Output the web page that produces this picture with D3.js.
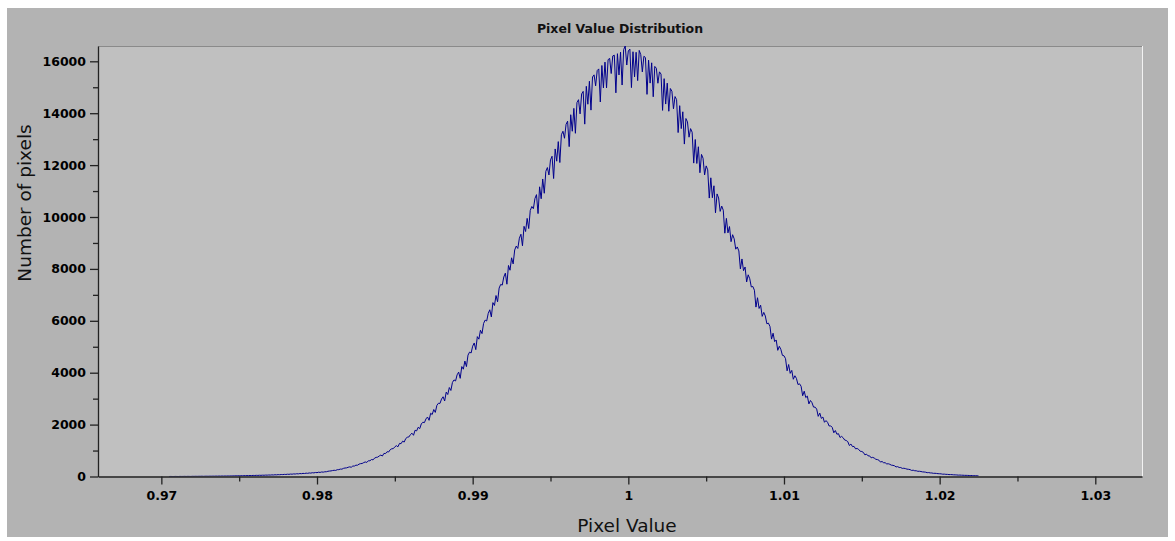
<!DOCTYPE html>
<html>
<head>
<meta charset="utf-8">
<script src="https://cdn.jsdelivr.net/npm/d3@7"></script>
<style>
  html, body { margin: 0; padding: 0; background: #fff; }
  svg { display: block; font-family: "DejaVu Sans", sans-serif; }
</style>
</head>
<body>
<svg id="chart" width="1175" height="541"></svg>
<script>
// Histogram of pixel values: fixed-width bins starting at binStart.
const binStart = 0.9705;
const binWidth = 0.0001;

// Counts per bin, 0.9705 .. 0.9804
const leftTailCounts = [
  0, 2, 0, 0, 3, 1, 0, 4, 2, 3,
  5, 2, 6, 4, 3, 7, 5, 8, 6, 9,
  8, 11, 7, 10, 12, 9, 13, 11, 14, 12,
  16, 13, 17, 15, 19, 16, 20, 18, 22, 19,
  24, 21, 27, 25, 29, 26, 31, 28, 34, 31,
  36, 33, 39, 36, 42, 39, 45, 42, 48, 45,
  51, 48, 55, 52, 59, 55, 63, 59, 67, 63,
  72, 68, 77, 73, 82, 78, 88, 83, 94, 89,
  100, 95, 107, 101, 114, 108, 121, 115, 129, 122,
  137, 130, 146, 139, 155, 148, 165, 157, 175, 167
];

// Counts per bin, 0.9805 .. 0.9999
const risingCounts = [
  182, 183, 201, 210, 215, 229, 240, 234, 263, 264,
  286, 282, 314, 327, 332, 355, 371, 357, 404, 402,
  437, 434, 477, 496, 501, 536, 560, 542, 607, 605,
  654, 641, 710, 737, 746, 793, 825, 789, 890, 881,
  955, 943, 1031, 1068, 1073, 1144, 1188, 1145, 1275, 1265,
  1362, 1327, 1462, 1512, 1523, 1612, 1669, 1588, 1783, 1757,
  1897, 1844, 2026, 2091, 2077, 2220, 2292, 2165, 2437, 2389,
  2581, 2470, 2742, 2823, 2816, 2984, 3073, 2909, 3251, 3160,
  3429, 3315, 3624, 3722, 3682, 3917, 4023, 3783, 4236, 4135,
  4449, 4235, 4678, 4793, 4760, 5022, 5145, 4889, 5390, 5292,
  5636, 5507, 5897, 6027, 5992, 6288, 6425, 6149, 6700, 6591,
  6974, 6733, 7260, 7403, 7376, 7689, 7837, 7410, 8132, 7949,
  8428, 8193, 8730, 8881, 8788, 9183, 9336, 8891, 9641, 9441,
  9947, 9555, 10253, 10405, 10320, 10711, 10862, 10132, 11163, 10703,
  11465, 10915, 11759, 11906, 11619, 12200, 12341, 11483, 12623, 12151,
  12905, 12099, 13171, 13305, 13035, 13571, 13694, 12712, 13941, 13305,
  14187, 13226, 14409, 14521, 13974, 14743, 14841, 13579, 15036, 14346,
  15231, 14119, 15395, 15478, 15054, 15642, 15707, 14432, 15838, 14974,
  15969, 14976, 16064, 16112, 15529, 16207, 16236, 14785, 16294, 15474,
  16352, 15086, 16450, 16590, 15857
];

// Counts per bin, 1.0000 .. 1.0225
const fallingCounts = [
  16400, 16470, 14987, 16369, 15401, 16348, 15256, 16420, 16256, 15592,
  16195, 16144, 14726, 16043, 15160, 15942, 14634, 15803, 15733, 15155,
  15594, 15507, 14109, 15332, 14353, 15158, 14076, 14952, 14848, 14170,
  14642, 14525, 13254, 14290, 13407, 14055, 12811, 13795, 13666, 13076,
  13406, 13266, 12077, 12987, 12063, 12707, 11706, 12412, 12265, 11620,
  11970, 11817, 10730, 11510, 10743, 11203, 10162, 10890, 10733, 10217,
  10420, 10262, 9377, 9947, 9389, 9632, 9049, 9318, 9160, 8760,
  8846, 8692, 7999, 8383, 7932, 8074, 7496, 7773, 7623, 7305,
  7323, 7178, 6528, 6889, 6475, 6600, 6171, 6324, 6187, 5886,
  5911, 5781, 5295, 5521, 5197, 5261, 4862, 5018, 4896, 4668,
  4653, 4540, 4073, 4315, 3975, 4089, 3747, 3882, 3779, 3544,
  3572, 3477, 3112, 3288, 3041, 3099, 2797, 2929, 2843, 2675,
  2673, 2597, 2318, 2444, 2239, 2291, 2090, 2155, 2087, 1946,
  1951, 1891, 1685, 1771, 1629, 1651, 1502, 1546, 1493, 1405,
  1388, 1342, 1193, 1251, 1152, 1160, 1065, 1081, 1042, 972,
  963, 929, 833, 862, 796, 795, 720, 738, 709, 664,
  652, 628, 556, 579, 530, 531, 485, 491, 470, 437,
  430, 413, 368, 380, 348, 346, 312, 318, 305, 284,
  277, 266, 234, 243, 221, 220, 200, 202, 192, 178,
  174, 166, 148, 151, 138, 136, 122, 124, 118, 109,
  106, 101, 89, 91, 83, 82, 73, 74, 71, 65,
  63, 60, 53, 55, 50, 49, 44, 44, 42, 38,
  37, 35, 30, 31, 27, 22
];

// Axis settings
const xDomain = [0.96593, 1.0330];
const xTicks = [0.97, 0.98, 0.99, 1.00, 1.01, 1.02, 1.03];
const xTickLabels = ["0.97", "0.98", "0.99", "1", "1.01", "1.02", "1.03"];
const xMinorTicks = [0.975, 0.985, 0.995, 1.005, 1.015, 1.025];
const yTicks = [0, 2000, 4000, 6000, 8000, 10000, 12000, 14000, 16000];
const yMinorTicks = [1000, 3000, 5000, 7000, 9000, 11000, 13000, 15000];

const titleText = "Pixel Value Distribution";
const xLabelText = "Pixel Value";
const yLabelText = "Number of pixels";

const counts = leftTailCounts.concat(risingCounts, fallingCounts);
const bins = counts.map((c, i) => ({ value: binStart + i * binWidth, count: c }));

const plot = { left: 98, right: 1142, top: 46, bottom: 476.5 };

const svg = d3.select("#chart");

// backgrounds
svg.append("rect").attr("x", 0).attr("y", 0).attr("width", 1175).attr("height", 541).attr("fill", "#ffffff");
svg.append("rect").attr("x", 7).attr("y", 8).attr("width", 1161).attr("height", 529).attr("fill", "#b3b3b3");
svg.append("rect")
  .attr("x", plot.left).attr("y", plot.top)
  .attr("width", plot.right - plot.left).attr("height", plot.bottom - plot.top)
  .attr("fill", "#c0c0c0");

const x = d3.scaleLinear().domain(xDomain).range([plot.left, plot.right]);
const y = d3.scaleLinear().domain([0, d3.max(counts)]).range([plot.bottom, plot.top]);

// frame edges of the plot area
svg.append("line")
  .attr("x1", plot.left).attr("x2", plot.right)
  .attr("y1", plot.top + 0.5).attr("y2", plot.top + 0.5)
  .attr("stroke", "#8a8a8a").attr("stroke-width", 1);
svg.append("line")
  .attr("x1", plot.right + 0.5).attr("x2", plot.right + 0.5)
  .attr("y1", plot.top).attr("y2", plot.bottom)
  .attr("stroke", "#f2f2f2").attr("stroke-width", 1);

// data line
svg.append("defs").append("clipPath").attr("id", "plotClip")
  .append("rect").attr("x", plot.left).attr("y", plot.top - 1)
  .attr("width", plot.right - plot.left).attr("height", plot.bottom - plot.top + 1);

const line = d3.line().x(d => x(d.value)).y(d => y(d.count));
svg.append("path")
  .datum(bins)
  .attr("clip-path", "url(#plotClip)")
  .attr("fill", "none")
  .attr("stroke", "#00008b")
  .attr("stroke-width", 1)
  .attr("d", line);

// axes
function styleAxis(g) {
  g.selectAll("path, line").attr("stroke", "#222").attr("stroke-width", 1.3);
  g.selectAll("text")
    .attr("fill", "#000")
    .style("font-family", "'DejaVu Sans', sans-serif")
    .style("font-weight", "bold")
    .style("font-size", "12.5px");
}

const gx = svg.append("g")
  .attr("transform", `translate(0,${plot.bottom})`)
  .call(d3.axisBottom(x).tickValues(xTicks)
    .tickFormat((d, i) => xTickLabels[i])
    .tickSize(8).tickSizeOuter(0).tickPadding(7));
styleAxis(gx);

const gxMinor = svg.append("g")
  .attr("transform", `translate(0,${plot.bottom})`)
  .call(d3.axisBottom(x).tickValues(xMinorTicks).tickFormat("").tickSize(5).tickSizeOuter(0));
gxMinor.select(".domain").remove();
styleAxis(gxMinor);

const gy = svg.append("g")
  .attr("transform", `translate(${plot.left},0)`)
  .call(d3.axisLeft(y).tickValues(yTicks)
    .tickFormat(d3.format("d"))
    .tickSize(8).tickSizeOuter(0).tickPadding(4));
styleAxis(gy);

const gyMinor = svg.append("g")
  .attr("transform", `translate(${plot.left},0)`)
  .call(d3.axisLeft(y).tickValues(yMinorTicks).tickFormat("").tickSize(5).tickSizeOuter(0));
gyMinor.select(".domain").remove();
styleAxis(gyMinor);

// titles
svg.append("text")
  .attr("x", 620).attr("y", 33)
  .attr("text-anchor", "middle")
  .style("font-weight", "bold").style("font-size", "12.5px")
  .attr("fill", "#111")
  .text(titleText);

svg.append("text")
  .attr("x", 627).attr("y", 532)
  .attr("text-anchor", "middle")
  .style("font-size", "18.5px")
  .attr("fill", "#111")
  .text(xLabelText);

svg.append("text")
  .attr("transform", "translate(31,203) rotate(-90)")
  .attr("text-anchor", "middle")
  .style("font-size", "18.5px")
  .attr("fill", "#111")
  .text(yLabelText);
</script>
</body>
</html>
